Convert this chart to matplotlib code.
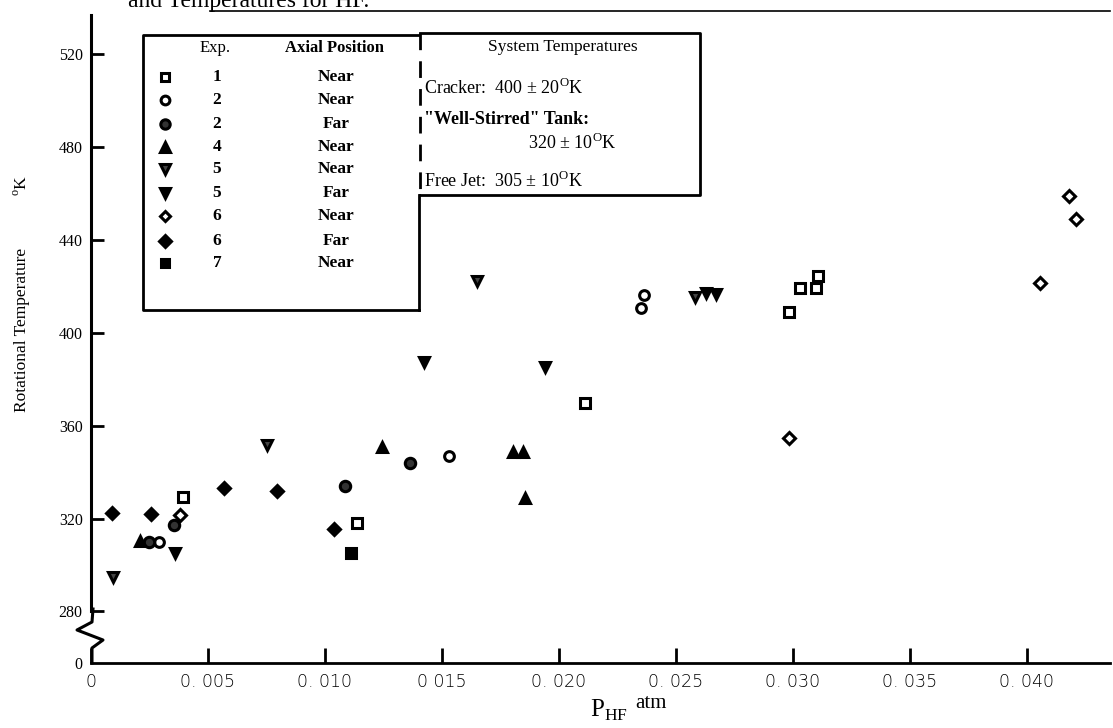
import matplotlib.pyplot as plt
from matplotlib.lines import Line2D
from matplotlib.patches import Rectangle

# HF rotational temperature vs partial pressure
exp1_near_p = [0.00393, 0.01137, 0.02113, 0.02985, 0.03029, 0.03097, 0.03107]
exp1_near_t = [329.4, 318.2, 370.0, 409.2, 419.3, 419.3, 424.6]
exp2_near_p = [0.00289, 0.01531, 0.02349, 0.02363]
exp2_near_t = [309.8, 347.0, 410.6, 416.4]
exp2_far_p = [0.0025, 0.00353, 0.01086, 0.01362]
exp2_far_t = [310.0, 317.2, 334.2, 343.8]
exp4_near_p = [0.0021, 0.01243, 0.01805, 0.01845, 0.01856]
exp4_near_t = [310.3, 351.0, 348.6, 348.6, 328.7]
exp5_near_p = [0.00093, 0.00754, 0.01648, 0.02581]
exp5_near_t = [295.0, 351.7, 422.5, 415.7]
exp5_far_p = [0.0036, 0.01423, 0.01941, 0.02628, 0.02671]
exp5_far_t = [305.3, 387.6, 385.5, 417.1, 416.7]
exp6_near_p = [0.0038, 0.02983, 0.04056, 0.0418, 0.0421]
exp6_near_t = [321.6, 354.6, 421.4, 459.0, 449.0]
exp6_far_p = [0.00089, 0.00256, 0.00568, 0.00794, 0.01037]
exp6_far_t = [322.3, 321.9, 333.2, 332.0, 315.6]
exp7_near_p = [0.01112]
exp7_near_t = [305.3]

legend_exp = ["1", "2", "2", "4", "5", "5", "6", "6", "7"]
legend_pos = ["Near", "Near", "Far", "Near", "Near", "Far", "Near", "Far", "Near"]

xticks = [0, 0.005, 0.010, 0.015, 0.020, 0.025, 0.030, 0.035, 0.040]
xticklabels = ["0", "0. 005", "0. 010", "0 015", "0. 020", "0. 025", "0. 030", "0. 035", "0. 040"]
y_zero = 257.8  # where the broken axis puts "0"
yticks = [y_zero, 280, 320, 360, 400, 440, 480, 520]
yticklabels = ["0", "280", "320", "360", "400", "440", "480", "520"]

plt.rcParams['font.family'] = ['Liberation Serif', 'DejaVu Serif']
plt.rcParams['mathtext.fontset'] = 'custom'
plt.rcParams['mathtext.rm'] = 'Liberation Serif'

W, H = 1113, 728
fig = plt.figure(figsize=(W / 100, H / 100), dpi=100)
ax = fig.add_axes([91 / W, 1 - 663 / H, (1110 - 91) / W, (663 - 15) / H])
ax.set_xlim(0, 0.04355)
ax.set_ylim(y_zero, 537)

# marker styles: (marker, facecolor, size)
styles = [
    ('s', 'white', 6.5),
    ('o', 'white', 7),
    ('o', '#333333', 7.5),
    ('^', 'black', 7.5),
    ('v', '#444444', 7.5),
    ('v', 'black', 7.5),
    ('D', 'white', 6),
    ('D', 'black', 6.5),
    ('s', 'black', 7),
]
series = [
    (exp1_near_p, exp1_near_t), (exp2_near_p, exp2_near_t), (exp2_far_p, exp2_far_t),
    (exp4_near_p, exp4_near_t), (exp5_near_p, exp5_near_t), (exp5_far_p, exp5_far_t),
    (exp6_near_p, exp6_near_t), (exp6_far_p, exp6_far_t), (exp7_near_p, exp7_near_t),
]
for (p, t), (m, fc, ms) in zip(series, styles):
    ax.plot(p, t, linestyle='none', marker=m, markerfacecolor=fc,
            markeredgecolor='black', markeredgewidth=2.2, markersize=ms, clip_on=False)

for s in ['top', 'right']:
    ax.spines[s].set_visible(False)
ax.spines['left'].set_bounds(280, 537)
ax.spines['left'].set_linewidth(2.2)
ax.spines['bottom'].set_linewidth(2.0)

ax.set_xticks(xticks)
ax.set_xticklabels(xticklabels, fontsize=12.5, family='DejaVu Sans', fontweight='light')
ax.set_yticks(yticks)
ax.set_yticklabels(yticklabels, fontsize=11.5)
ax.tick_params(axis='x', direction='in', length=11, width=2, pad=7)
ax.tick_params(axis='y', direction='in', length=9, width=2, pad=6)
ax.yaxis.get_major_ticks()[0].tick1line.set_visible(False)

# axis break squiggle between 280 and 0
def fx(px):
    return px / W

def fy(py):
    return 1 - py / H

brk_x = [93, 92, 77, 103, 92, 92]
brk_y = [609, 622, 630, 640, 648, 663]
fig.add_artist(Line2D([fx(v) for v in brk_x], [fy(v) for v in brk_y],
                      color='black', lw=2.2, transform=fig.transFigure))

fig.text(fx(590), fy(710), "P$_{\\mathrm{HF}}$", fontsize=18, ha='left', va='center')
fig.text(fx(635), fy(703), "atm", fontsize=15, ha='left', va='center')
fig.text(fx(22), fy(330), "Rotational Temperature", rotation=90,
         fontsize=12.5, ha='center', va='center')
fig.text(fx(22), fy(185), "$^{\\mathrm{o}}$K", rotation=90,
         fontsize=12.5, ha='center', va='center')

# cut-off caption line at the very top
fig.text(fx(128), fy(7), "and Temperatures for HF.", fontsize=17, ha='left', va='baseline')
fig.add_artist(Line2D([fx(210), fx(1110)], [fy(11), fy(11)], color='black', lw=1.2,
                      transform=fig.transFigure))

# legend box (experiments)
lw = 2.0
fig.add_artist(Rectangle((fx(143), fy(310)), fx(419) - fx(143), fy(35) - fy(310),
                         facecolor='white', edgecolor='none', transform=fig.transFigure, zorder=-1))
fig.add_artist(Line2D([fx(419), fx(143), fx(143), fx(419)],
                      [fy(35), fy(35), fy(310), fy(310)],
                      color='black', lw=lw, transform=fig.transFigure))
fig.add_artist(Line2D([fx(419), fx(419)], [fy(195), fy(310)],
                      color='black', lw=lw, transform=fig.transFigure))
fig.text(fx(215), fy(48), "Exp.", fontsize=12, ha='center', va='center')
fig.text(fx(335), fy(48), "Axial Position", fontsize=12, fontweight='bold', ha='center', va='center')
row_y = [77, 100, 124, 147, 169, 193, 216, 241, 263]
for ry, (m, fc, ms), e, pos in zip(row_y, styles, legend_exp, legend_pos):
    fig.add_artist(Line2D([fx(165)], [fy(ry)], linestyle='none', marker=m, markerfacecolor=fc,
                          markeredgecolor='black', markeredgewidth=2.2, markersize=ms * 0.9,
                          transform=fig.transFigure))
    fig.text(fx(217), fy(ry), e, fontsize=12.5, fontweight='bold', ha='center', va='center')
    fig.text(fx(336), fy(ry), pos, fontsize=12.5, fontweight='bold', ha='center', va='center')

# system temperatures box
fig.add_artist(Line2D([fx(420), fx(700), fx(700), fx(420)],
                      [fy(33), fy(33), fy(195), fy(195)],
                      color='black', lw=lw, transform=fig.transFigure))
fig.add_artist(Line2D([fx(420), fx(420)], [fy(33), fy(195)], color='black', lw=lw,
                      linestyle=(0, (6, 4)), transform=fig.transFigure))
fig.text(fx(563), fy(47), "System Temperatures", fontsize=12.5, ha='center', va='center')
fig.text(fx(424), fy(88), "Cracker:  400 \u00b1 20$^{\\mathrm{O}}$K", fontsize=13, ha='left', va='center')
fig.text(fx(424), fy(120), "\"Well-Stirred\" Tank:", fontsize=13, fontweight='bold', ha='left', va='center')
fig.text(fx(528), fy(143), "320 \u00b1 10$^{\\mathrm{O}}$K", fontsize=13, ha='left', va='center')
fig.text(fx(424), fy(181), "Free Jet:  305 \u00b1 10$^{\\mathrm{O}}$K", fontsize=13, ha='left', va='center')

fig.savefig("out.png", dpi=100)
